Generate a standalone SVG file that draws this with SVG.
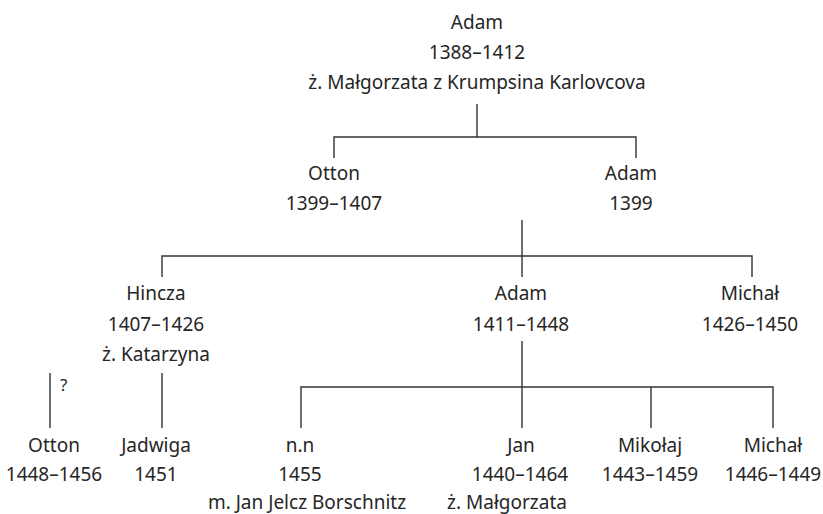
<svg xmlns="http://www.w3.org/2000/svg" width="823" height="514" viewBox="0 0 823 514">
<style>
text{font-family:"Noto Sans","Open Sans","DejaVu Sans",sans-serif;font-size:19px;fill:#262626;text-anchor:middle}
.q{font-size:17px;text-anchor:start}
.c{stroke:#333;stroke-width:1.4;fill:none}
</style>
<rect width="823" height="514" fill="#fff"/>
<g id="connectors" class="c">
<path d="M477 104V137M334 158V137H636V158"/>
<path d="M522 220V277M162 277V256H752V277"/>
<path d="M162 373V428M50 373V428"/>
<path d="M522 341V428M301 428V387H773V428M651 387V428"/>
</g>
<g id="n-adam1"><text x="477" y="29">Adam</text><text x="477" y="59">1388–1412</text><text x="477" y="89">ż. Małgorzata z Krumpsina Karlovcova</text></g>
<g id="n-otton1"><text x="334" y="180">Otton</text><text x="334" y="210">1399–1407</text></g>
<g id="n-adam2"><text x="631" y="180">Adam</text><text x="631" y="210">1399</text></g>
<g id="n-hincza"><text x="156" y="300">Hincza</text><text x="156" y="331">1407–1426</text><text x="156" y="361">ż. Katarzyna</text></g>
<g id="n-adam3"><text x="521" y="300">Adam</text><text x="521" y="331">1411–1448</text></g>
<g id="n-michal1"><text x="750" y="300">Michał</text><text x="750" y="331">1426–1450</text></g>
<g id="q-mark"><text class="q" x="60" y="391">?</text></g>
<g id="n-otton2"><text x="54" y="452">Otton</text><text x="54" y="481">1448–1456</text></g>
<g id="n-jadwiga"><text x="156" y="452">Jadwiga</text><text x="156" y="481">1451</text></g>
<g id="n-nn"><text x="300" y="452">n.n</text><text x="300" y="481">1455</text><text x="307" y="509">m. Jan Jelcz Borschnitz</text></g>
<g id="n-jan"><text x="521" y="452">Jan</text><text x="520" y="481">1440–1464</text><text x="507" y="509">ż. Małgorzata</text></g>
<g id="n-mikolaj"><text x="650" y="452">Mikołaj</text><text x="650" y="481">1443–1459</text></g>
<g id="n-michal2"><text x="773" y="452">Michał</text><text x="773" y="481">1446–1449</text></g>
</svg>
